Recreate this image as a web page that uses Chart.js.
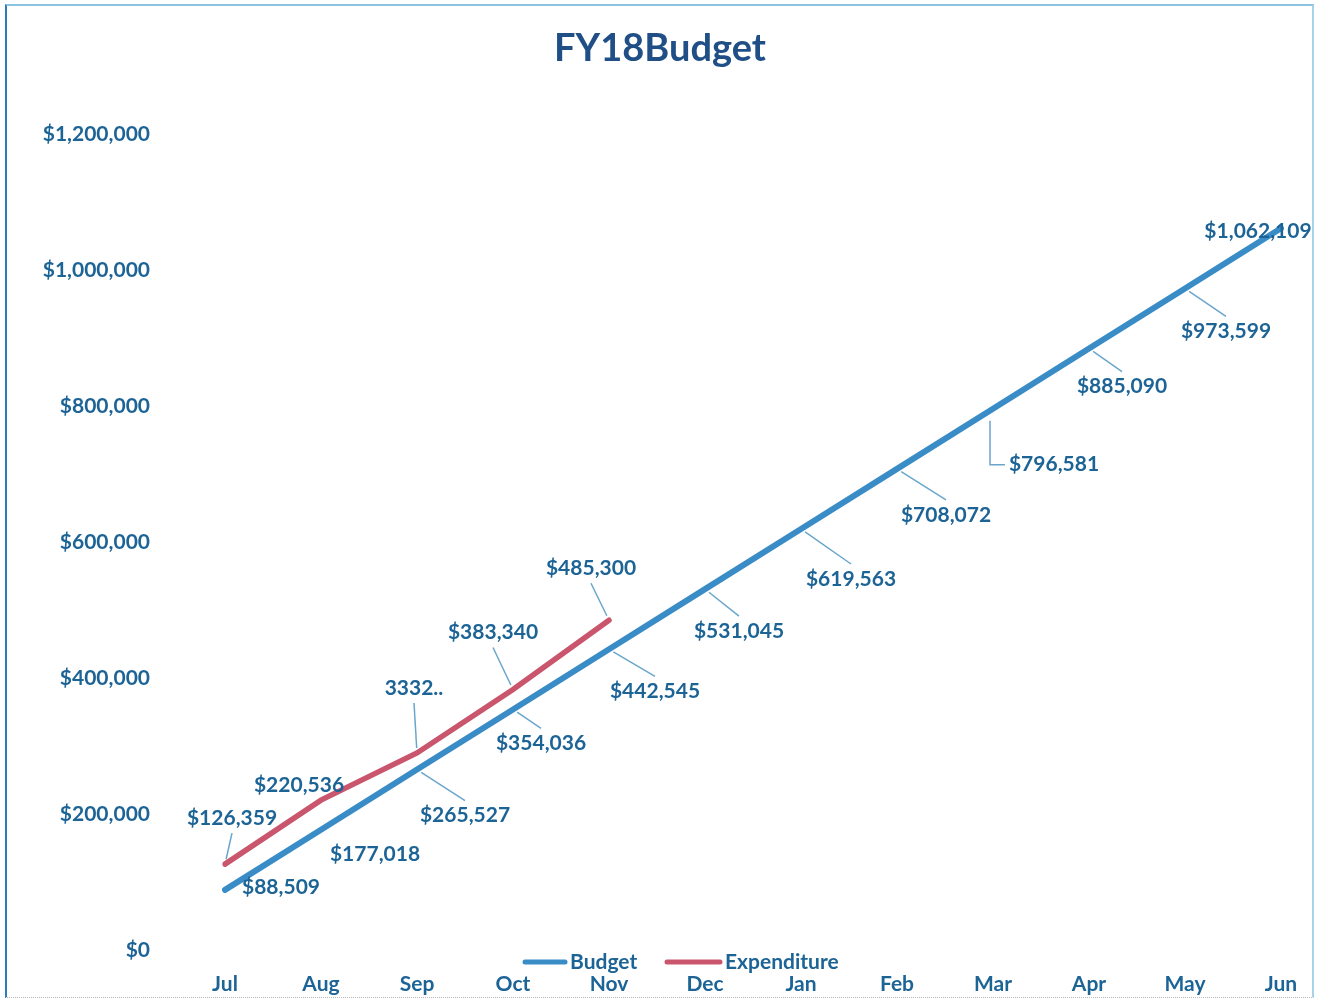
<!DOCTYPE html>
<html>
<head>
<meta charset="utf-8">
<title>FY18Budget</title>
<script src="https://cdn.jsdelivr.net/npm/chart.js@4.4.1/dist/chart.umd.min.js"></script>
<style>
    html, body { margin: 0; padding: 0; background: #fff; }
    #wrap {
        position: relative;
        width: 1320px;
        height: 1001px;
        box-sizing: border-box;
    }
    #frame {
        position: absolute;
        left: 5px; top: 4px; right: 6px; bottom: 3px;
        border-left: 2px solid #2f7db4;
        border-top: 2px solid #8cc3e3;
        border-right: 2px solid #a9d2ea;
        border-bottom: 1px dotted #b9b9b9;
        pointer-events: none;
    }
</style>
</head>
<body>
<div id="wrap">
    <canvas id="budgetChart" width="1320" height="1001"></canvas>
    <div id="frame"></div>
</div>
<script>
// --- DATA ---
const months = ['Jul', 'Aug', 'Sep', 'Oct', 'Nov', 'Dec', 'Jan', 'Feb', 'Mar', 'Apr', 'May', 'Jun'];
const budget = [88509, 177018, 265527, 354036, 442545, 531045, 619563, 708072, 796581, 885090, 973599, 1062109];
const expenditure = [126359, 220536, 290000, 383340, 485300];
// label text for expenditure (Sep one is cut off in the original)
const expenditureLabels = ['$126,359', '$220,536', '3332..', '$383,340', '$485,300'];
const yTicks = [0, 200000, 400000, 600000, 800000, 1000000, 1200000];

// --- STYLE ---
const labelBlue = '#1d6496';
const budgetColor = '#3a8cc7';
const expColor = '#c9566d';
const leaderColor = '#6aa6cc';
const fontFamily = 'Lato, "Open Sans", sans-serif';

// label offset [dx, dy, leader] from each point to the label centre
// leader: 0 = none, 1 = straight, 2 = elbow
const budgetOffsets = [[56, -3, 0], [54, 25, 0], [48, 46, 1], [28, 34, 1], [46, 42, 1], [34, 42, 1], [50, 50, 1], [49, 46, 1], [61, 56, 2], [33, 38, 1], [41, 43, 1], [-23, 3, 0]];
const expOffsets = [[7, -46, 1], [-22, -15, 0], [-3, -65, 1], [-20, -57, 1], [-18, -52, 1]];

const money = (v) => '$' + v.toLocaleString('en-US');

/**
 * Data labels with leader lines, like the spreadsheet chart.
 */
const dataLabelPlugin = {
    id: 'dataLabelPlugin',
    afterDatasetsDraw(chart) {
        const ctx = chart.ctx;
        ctx.save();
        ctx.font = `bold 21px ${fontFamily}`;
        ctx.textAlign = 'center';
        ctx.textBaseline = 'middle';

        const sets = [
            { meta: chart.getDatasetMeta(0), offsets: budgetOffsets, text: (i) => money(budget[i]) },
            { meta: chart.getDatasetMeta(1), offsets: expOffsets, text: (i) => expenditureLabels[i] }
        ];

        sets.forEach(set => {
            set.meta.data.forEach((pt, i) => {
                const [dx, dy, leader] = set.offsets[i];
                const cx = pt.x + dx;
                const cy = pt.y + dy;
                const label = set.text(i);
                const w = ctx.measureText(label).width;

                ctx.strokeStyle = leaderColor;
                ctx.lineWidth = 1.5;
                if (leader === 1) {
                    const endY = dy > 0 ? cy - 15 : cy + 15;
                    const ang = Math.atan2(endY - pt.y, cx - pt.x);
                    ctx.beginPath();
                    ctx.moveTo(pt.x + Math.cos(ang) * 5, pt.y + Math.sin(ang) * 5);
                    ctx.lineTo(cx, endY);
                    ctx.stroke();
                } else if (leader === 2) {
                    const x0 = pt.x - 3;
                    ctx.beginPath();
                    ctx.moveTo(x0, pt.y + 12);
                    ctx.lineTo(x0, cy);
                    ctx.lineTo(cx - w / 2 - 4, cy);
                    ctx.stroke();
                }

                ctx.fillStyle = labelBlue;
                ctx.fillText(label, cx, cy);
            });
        });
        ctx.restore();
    }
};

/**
 * Legend sits between the plot and the month labels.
 */
const legendPlugin = {
    id: 'legendPlugin',
    afterDraw(chart) {
        const ctx = chart.ctx;
        const y = chart.chartArea.bottom + 12;
        const items = [
            { x: 525, len: 40 },
            { x: 667, len: 53 }
        ];
        ctx.save();
        ctx.font = `bold 21px ${fontFamily}`;
        ctx.textBaseline = 'middle';
        ctx.textAlign = 'left';
        chart.data.datasets.forEach((ds, i) => {
            const it = items[i];
            ctx.strokeStyle = ds.borderColor;
            ctx.lineWidth = 5;
            ctx.lineCap = 'round';
            ctx.beginPath();
            ctx.moveTo(it.x, y);
            ctx.lineTo(it.x + it.len, y);
            ctx.stroke();
            ctx.fillStyle = labelBlue;
            ctx.fillText(ds.label, it.x + it.len + 5, y);
        });
        ctx.restore();
    }
};

const ctx = document.getElementById('budgetChart').getContext('2d');

new Chart(ctx, {
    type: 'line',
    data: {
        labels: months,
        datasets: [
            {
                label: 'Budget',
                data: budget,
                borderColor: budgetColor,
                backgroundColor: budgetColor,
                borderWidth: 6,
                pointRadius: 0,
                tension: 0,
                borderCapStyle: 'round'
            },
            {
                label: 'Expenditure',
                data: expenditure,
                borderColor: expColor,
                backgroundColor: expColor,
                borderWidth: 5.5,
                pointRadius: 0,
                tension: 0,
                borderCapStyle: 'round'
            }
        ]
    },
    options: {
        responsive: false,
        maintainAspectRatio: false,
        animation: false,
        layout: {
            padding: { top: 0, right: 39, bottom: 6, left: 39 }
        },
        plugins: {
            legend: { display: false },
            tooltip: { enabled: false },
            title: {
                display: true,
                text: 'FY18Budget',
                color: '#1f4f86',
                font: { family: fontFamily, size: 38, weight: 'bold' },
                padding: { top: 26, bottom: 63 }
            }
        },
        scales: {
            x: {
                offset: false,
                afterFit: (axis) => {
                    axis.height = 45;
                },
                grid: { display: false, drawTicks: false },
                border: { display: false },
                ticks: {
                    color: labelBlue,
                    padding: 22,
                    maxRotation: 0,
                    font: { family: fontFamily, size: 21, weight: 'bold' }
                }
            },
            y: {
                min: 0,
                max: 1200000,
                afterBuildTicks: (axis) => {
                    axis.ticks = yTicks.map(v => ({ value: v }));
                },
                afterFit: (axis) => {
                    // the big tick padding would otherwise eat space top and bottom
                    axis.width = 186;
                    axis.paddingTop = 10;
                    axis.paddingBottom = 10;
                },
                grid: { display: false, drawTicks: false },
                border: { display: false },
                ticks: {
                    color: labelBlue,
                    padding: 75,
                    font: { family: fontFamily, size: 21, weight: 'bold' },
                    callback: (value) => money(value)
                }
            }
        }
    },
    plugins: [dataLabelPlugin, legendPlugin]
});
</script>
</body>
</html>
